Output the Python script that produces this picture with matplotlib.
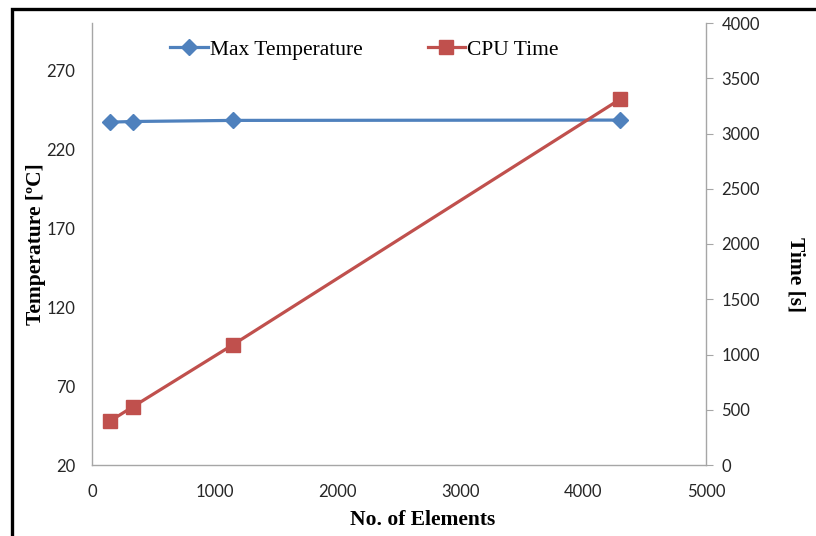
import matplotlib
matplotlib.use('Agg')
import matplotlib.pyplot as plt
from matplotlib.patches import Rectangle

# data
elements = [150, 330, 1150, 4300]
max_temp = [237.2, 237.6, 238.3, 238.5]
cpu_time = [400, 525, 1090, 3310]

blue = '#4F81BD'
red = '#C0504D'
axis_gray = '#A6A6A6'
tick_font = 'Lato'
label_font = 'Liberation Serif'

fig = plt.figure(figsize=(8.16, 5.36), dpi=100)

# outer frame (only top and left visible in the reference)
fig.patches.append(Rectangle((12 / 816, -0.05), 1.2, 1 - 9 / 536 + 0.05,
                             transform=fig.transFigure, fill=False,
                             edgecolor='black', linewidth=2.4))

ax = fig.add_axes([92 / 816, 1 - 465 / 536, (706 - 92) / 816, (465 - 23) / 536])
ax2 = ax.twinx()

l1, = ax.plot(elements, max_temp, '-D', color=blue, linewidth=2.3,
              markersize=8, label='Max Temperature')
l2, = ax2.plot(elements, cpu_time, '-s', color=red, linewidth=2.3,
               markersize=10.5, label='CPU Time')

ax.set_xlim(0, 5000)
ax.set_ylim(20, 300)
ax2.set_ylim(0, 4000)
ax.set_xticks(range(0, 5001, 1000))
ax.set_yticks(range(20, 271, 50))
ax2.set_yticks(range(0, 4001, 500))

for a in (ax, ax2):
    for s in a.spines.values():
        s.set_visible(False)
ax.spines['left'].set_visible(True)
ax.spines['bottom'].set_visible(True)
ax2.spines['right'].set_visible(True)
for s in (ax.spines['left'], ax.spines['bottom'], ax2.spines['right']):
    s.set_color(axis_gray)
    s.set_linewidth(1.0)

ax.tick_params(axis='y', length=0, pad=12, labelsize=12, labelcolor='#262626')
ax.tick_params(axis='x', length=0, pad=14, labelsize=12, labelcolor='#262626')
ax2.tick_params(axis='y', length=5, color=axis_gray, pad=6, labelsize=12,
                labelcolor='#262626')
for lab in ax.get_xticklabels() + ax.get_yticklabels() + ax2.get_yticklabels():
    lab.set_fontfamily(tick_font)

ax.set_xlabel('No. of Elements', fontfamily=label_font, fontweight='bold',
              fontsize=15.5)
ax.xaxis.set_label_coords((423 - 92) / 614, -(510 - 465) / 442)
ax.set_ylabel('Temperature [ºC]', fontfamily=label_font, fontweight='bold',
              fontsize=15.5)
ax.yaxis.set_label_coords(-(92 - 46) / 614, 0.5)
ax2.set_ylabel('Time [s]', fontfamily=label_font, fontweight='bold',
               fontsize=15.5, rotation=-90, va='center')
ax2.yaxis.set_label_coords(1 + (795 - 706) / 614, (465 - 275) / 442)

leg = ax.legend(handles=[l1, l2], loc='upper left', ncol=2, frameon=False,
                bbox_to_anchor=((163 - 92) / 614 - 0.002, 0.982), borderaxespad=0,
                borderpad=0.4, columnspacing=3.0, handlelength=1.75,
                handletextpad=0.1, prop={'family': label_font, 'size': 15.5})

fig.savefig('out.png', dpi=100)
